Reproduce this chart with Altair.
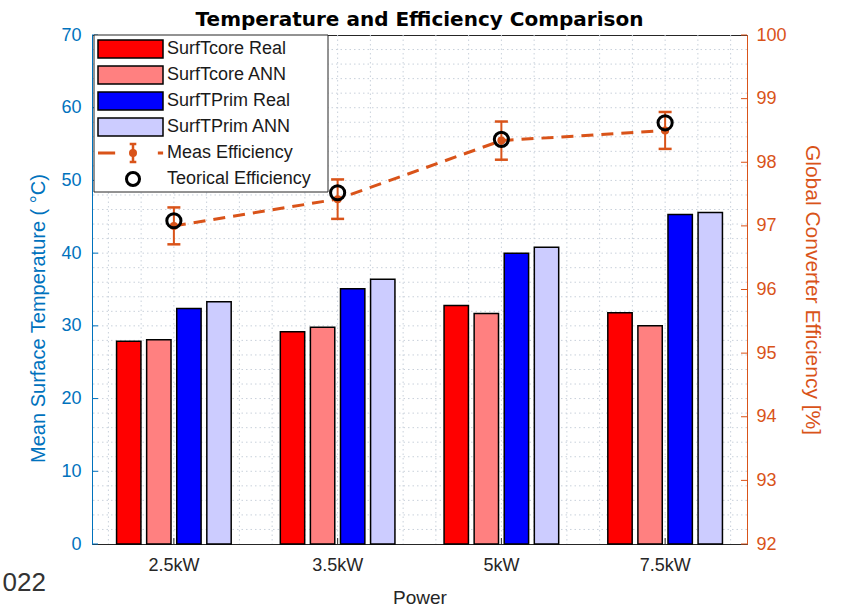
import altair as alt
import pandas as pd
import numpy as np

# ---------------- data ----------------
powers = ["2.5kW", "3.5kW", "5kW", "7.5kW"]
series_names = ["SurfTcore Real", "SurfTcore ANN", "SurfTPrim Real", "SurfTPrim ANN"]
core_real = [27.9, 29.2, 32.8, 31.8]
core_ann = [28.1, 29.8, 31.7, 30.0]
prim_real = [32.4, 35.1, 40.0, 45.3]
prim_ann = [33.3, 36.4, 40.8, 45.6]

meas_eff = [97.0, 97.42, 98.34, 98.5]
meas_err = [0.29, 0.31, 0.30, 0.29]
theo_eff = [97.08, 97.52, 98.36, 98.62]

temp_ticks = [0, 10, 20, 30, 40, 50, 60, 70]
eff_ticks = [92, 93, 94, 95, 96, 97, 98, 99, 100]
legend_labels = series_names + ["Meas Efficiency", "Teorical Efficiency"]

# ---------------- style ----------------
bar_colors = ["#FF0000", "#FF8080", "#0000FF", "#CCCCFF"]
BLUE = "#0072BD"
ORANGE = "#D95319"
DARK = "#262626"
GRID = "#c9d1db"
FONT = "Liberation Sans"
W, H = 655, 509

bars_df = pd.DataFrame({
    "power": np.repeat(powers, 4),
    "series": series_names * 4,
    "temp": [v for quad in zip(core_real, core_ann, prim_real, prim_ann) for v in quad],
})
eff_df = pd.DataFrame({"power": powers, "meas": meas_eff, "err": meas_err, "theo": theo_eff})
vgrid_df = pd.DataFrame({"gx": np.round(np.arange(0.6, 4.41, 0.2), 2)})
hgrid_df = pd.DataFrame({"hy": np.arange(2, 70, 2)})
tticks_df = pd.DataFrame({"ty": temp_ticks})
eticks_df = pd.DataFrame({"ey": eff_ticks})
cat_df = pd.DataFrame({"power": powers})
leg_df = pd.DataFrame({"label": legend_labels})
one_df = pd.DataFrame({"k": [0]})

x_band = alt.Scale(type="band", domain=powers, paddingInner=0.3, paddingOuter=0.15)
x_point = alt.Scale(type="point", domain=powers, padding=0.5)
yT = alt.Scale(domain=[0, 70], nice=False, zero=False)
yE = alt.Scale(domain=[92, 100], nice=False, zero=False)

# grid
vgrid = alt.Chart(vgrid_df).mark_rule(color=GRID, strokeDash=[1.5, 3], strokeWidth=1).encode(
    x=alt.X("gx:Q", scale=alt.Scale(domain=[0.5, 4.5], nice=False, zero=False), axis=None)
)
hgrid = alt.Chart(hgrid_df).mark_rule(color=GRID, strokeDash=[1.5, 3], strokeWidth=1).encode(
    y=alt.Y("hy:Q", scale=yT, axis=None)
)

# bars
bars = alt.Chart(bars_df).mark_bar(stroke="black", strokeWidth=1.5).encode(
    x=alt.X("power:N", scale=x_band, sort=powers,
            axis=alt.Axis(title="Power", labelColor=DARK, titleColor=DARK, domainColor=DARK,
                          ticks=False, grid=False, labelAngle=0, labelFontSize=18,
                          titleFontSize=19, labelPadding=12, titlePadding=14)),
    xOffset=alt.XOffset("series:N", scale=alt.Scale(domain=series_names, paddingInner=0.19, paddingOuter=0)),
    y=alt.Y("temp:Q", scale=yT,
            axis=alt.Axis(title="Mean Surface Temperature ( °C)", values=temp_ticks,
                          labelColor=BLUE, titleColor=BLUE, domainColor=BLUE, ticks=False,
                          grid=False, labelFontSize=18, titleFontSize=20, labelPadding=11,
                          titlePadding=12, titleY=283)),
    fill=alt.Fill("series:N", scale=alt.Scale(domain=series_names, range=bar_colors), legend=None),
)

# inward ticks
left_ticks = alt.Chart(tticks_df).mark_rule(color=BLUE, strokeWidth=1).encode(
    y=alt.Y("ty:Q", scale=yT, axis=None), x=alt.value(0), x2=alt.value(6)
)
right_ticks = alt.Chart(eticks_df).mark_rule(color=ORANGE, strokeWidth=1).encode(
    y=alt.Y("ey:Q", scale=yE, axis=None), x=alt.value(W - 6), x2=alt.value(W)
)
bottom_ticks = alt.Chart(cat_df).mark_rule(color=DARK, strokeWidth=1).encode(
    x=alt.X("power:N", scale=x_point, axis=None), y=alt.value(H - 6), y2=alt.value(H)
)

# efficiency
eff_axis = alt.Axis(orient="right", title="Global Converter Efficiency [%]", values=eff_ticks,
                    format="d", labelColor=ORANGE, titleColor=ORANGE, domainColor=ORANGE,
                    ticks=False, grid=False, labelFontSize=18, titleFontSize=21,
                    labelPadding=9, titlePadding=15)
ex = alt.X("power:N", scale=x_point, axis=None)
base_eff = alt.Chart(eff_df).transform_calculate(
    lo="datum.meas - datum.err", hi="datum.meas + datum.err"
)
eff_line = base_eff.mark_line(color=ORANGE, strokeWidth=3, strokeDash=[12, 8]).encode(
    x=ex, y=alt.Y("meas:Q", scale=yE, axis=eff_axis)
)
eff_err = base_eff.mark_rule(color=ORANGE, strokeWidth=2).encode(
    x=ex, y=alt.Y("lo:Q", scale=yE, axis=eff_axis), y2="hi:Q"
)
eff_cap_lo = base_eff.mark_tick(color=ORANGE, thickness=2.5, size=13, orient="horizontal", opacity=1).encode(
    x=ex, y=alt.Y("lo:Q", scale=yE, axis=eff_axis)
)
eff_cap_hi = base_eff.mark_tick(color=ORANGE, thickness=2.5, size=13, orient="horizontal", opacity=1).encode(
    x=ex, y=alt.Y("hi:Q", scale=yE, axis=eff_axis)
)
eff_dot = base_eff.mark_point(shape="circle", filled=True, color=ORANGE, size=64, opacity=1).encode(
    x=ex, y=alt.Y("meas:Q", scale=yE, axis=eff_axis)
)
eff_theo = base_eff.mark_point(shape="circle", filled=False, color="black", strokeWidth=3,
                               size=200, opacity=1).encode(
    x=ex, y=alt.Y("theo:Q", scale=yE, axis=eff_axis)
)
eff_layer = alt.layer(eff_line, eff_err, eff_cap_lo, eff_cap_hi, eff_dot, eff_theo)

# legend (drawn inside plot, top-left)
ly = alt.Y("label:N", scale=alt.Scale(type="point", domain=legend_labels, range=[14, 144], padding=0), axis=None)
leg_box = alt.Chart(one_df).mark_rect(fill="white", stroke=DARK, strokeWidth=1).encode(
    x=alt.value(2), x2=alt.value(236), y=alt.value(0), y2=alt.value(157)
)
leg_sw = alt.Chart(leg_df).transform_filter(
    alt.FieldOneOfPredicate(field="label", oneOf=series_names)
).mark_point(shape="M-1,-0.277H1V0.277H-1Z", size=4225, filled=True, stroke="black",
             strokeWidth=1.5, opacity=1).encode(
    x=alt.value(38.5), y=ly,
    fill=alt.Fill("label:N", scale=alt.Scale(domain=series_names, range=bar_colors), legend=None),
)
meas_only = alt.Chart(leg_df).transform_filter(alt.datum.label == "Meas Efficiency")
leg_dash = meas_only.mark_point(shape="M-1,0H-0.51M0.71,0H0.86", size=4900, filled=False,
                                color=ORANGE, strokeWidth=3, opacity=1).encode(x=alt.value(41), y=ly)
leg_eb = meas_only.mark_point(shape="M-0.22,-0.6H0.22M0,-0.6V0.6M-0.22,0.6H0.22", size=900,
                              filled=False, color=ORANGE, strokeWidth=2.5, opacity=1).encode(x=alt.value(41), y=ly)
leg_dot = meas_only.mark_point(shape="circle", filled=True, color=ORANGE, size=64, opacity=1).encode(
    x=alt.value(41), y=ly)
leg_theo = alt.Chart(leg_df).transform_filter(alt.datum.label == "Teorical Efficiency").mark_point(
    shape="circle", filled=False, color="black", strokeWidth=3, size=170, opacity=1
).encode(x=alt.value(41), y=ly)
leg_text = alt.Chart(leg_df).mark_text(align="left", baseline="middle", font=FONT, fontSize=18,
                                       color="#1a1a1a").encode(x=alt.value(75), y=ly, text="label:N")
legend_layer = alt.layer(leg_box, leg_sw, leg_dash, leg_eb, leg_dot, leg_theo, leg_text)

# caption fragment visible at bottom-left of the reference
caption = alt.Chart(one_df).mark_text(text="022", align="right", baseline="alphabetic", font=FONT,
                                      fontSize=26, color="#333333").encode(
    x=alt.value(-46), y=alt.value(556)
)

chart = alt.layer(
    vgrid, hgrid, bars, left_ticks, bottom_ticks, eff_layer, right_ticks, legend_layer, caption
).resolve_scale(
    x="independent", y="independent"
).properties(
    width=W, height=H,
    padding={"left": 92, "top": 35, "right": 106, "bottom": 68},
    autosize=alt.AutoSizeParams(type="none"),
    title=alt.TitleParams("Temperature and Efficiency Comparison", font="DejaVu Sans",
                          fontSize=20, fontWeight="bold", color="black", anchor="middle",
                          frame="group", offset=-4),
).configure_axis(
    labelFont=FONT, titleFont=FONT, titleFontWeight="normal"
).configure_view(
    stroke=DARK, strokeWidth=1
)

chart.save("out.html", embed_options={"renderer": "svg", "actions": False})
